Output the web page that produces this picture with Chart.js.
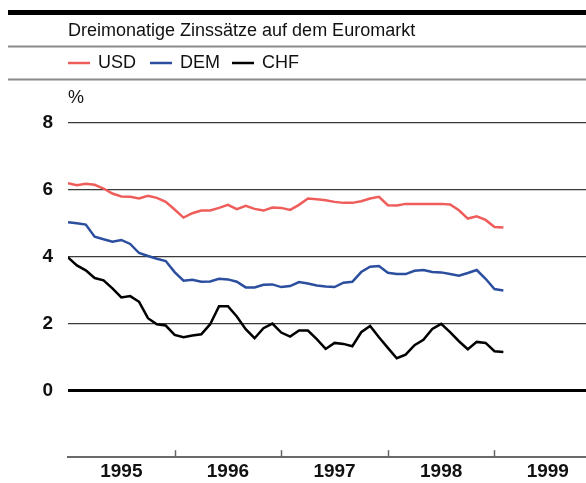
<!DOCTYPE html>
<html>
<head>
<meta charset="utf-8">
<script src="https://cdn.jsdelivr.net/npm/chart.js@4.4.1/dist/chart.umd.min.js"></script>
<style>
  html, body { margin: 0; padding: 0; background: #fff; overflow: hidden; }
  #wrap { width: 586px; height: 483px; position: relative; overflow: hidden; }
</style>
</head>
<body>
<div id="wrap"><canvas id="myChart"></canvas></div>
<script>
// monthly values, Jan 1995 .. Feb 1999 (index = months since Jan 1995)
const usd = [6.2, 6.14, 6.18, 6.15, 6.04, 5.89, 5.8, 5.79, 5.74, 5.82, 5.76, 5.64,
  5.41, 5.17, 5.3, 5.38, 5.38, 5.46, 5.55, 5.42, 5.52, 5.43, 5.38, 5.47,
  5.46, 5.4, 5.55, 5.74, 5.72, 5.69, 5.64, 5.61, 5.61, 5.66, 5.74, 5.79,
  5.54, 5.53, 5.58, 5.58, 5.58, 5.58, 5.58, 5.56, 5.39, 5.14, 5.21, 5.1,
  4.89, 4.87];
const dem = [5.03, 5.0, 4.96, 4.6, 4.52, 4.45, 4.5, 4.38, 4.11, 4.02, 3.94, 3.87,
  3.54, 3.28, 3.31, 3.25, 3.26, 3.34, 3.32, 3.25, 3.08, 3.08, 3.16, 3.17,
  3.09, 3.12, 3.24, 3.2, 3.14, 3.11, 3.09, 3.22, 3.25, 3.54, 3.7, 3.72,
  3.52, 3.48, 3.48, 3.58, 3.6, 3.54, 3.53, 3.48, 3.43, 3.51, 3.6, 3.34,
  3.03, 2.99];
const chf = [3.98, 3.74, 3.59, 3.36, 3.29, 3.05, 2.78, 2.82, 2.65, 2.16, 1.98, 1.94,
  1.66, 1.59, 1.64, 1.68, 1.98, 2.52, 2.52, 2.21, 1.83, 1.56, 1.86, 2.0,
  1.73, 1.61, 1.79, 1.79, 1.53, 1.24, 1.42, 1.39, 1.32, 1.74, 1.93, 1.59,
  1.27, 0.96, 1.07, 1.35, 1.51, 1.84, 1.99, 1.74, 1.47, 1.23, 1.45, 1.42,
  1.17, 1.15];

const seriesNames = ['USD', 'DEM', 'CHF'];
const seriesColors = ['#ef5d5a', '#2b4e9f', '#000000'];
const yearLabels = ['1995', '1996', '1997', '1998', '1999'];
const yTicks = [0, 2, 4, 6, 8];
const title = 'Dreimonatige Zinssätze auf dem Euromarkt';
const unit = '%';

const FONT = "'Liberation Sans', Arial, sans-serif";

function toPoints(arr) {
  return arr.map((v, i) => ({ x: i, y: v }));
}

const headerPlugin = {
  id: 'header',
  afterDraw(chart) {
    const ctx = chart.ctx;
    const x0 = chart.chartArea.left;
    ctx.save();
    // rules
    ctx.fillStyle = '#000';
    ctx.fillRect(8, 10, 578, 5);
    ctx.fillStyle = '#8a8a8a';
    ctx.fillRect(8, 45.5, 578, 2);
    ctx.fillRect(8, 78.5, 578, 2);
    // title
    ctx.fillStyle = '#111';
    ctx.font = '18px ' + FONT;
    ctx.textBaseline = 'middle';
    ctx.textAlign = 'left';
    ctx.fillText(title, x0, 31);
    // legend
    const itemX = [68, 150, 232];
    chart.data.datasets.forEach((ds, i) => {
      const lx = itemX[i];
      ctx.strokeStyle = ds.borderColor;
      ctx.lineWidth = 2.5;
      ctx.beginPath();
      ctx.moveTo(lx, 63);
      ctx.lineTo(lx + 22, 63);
      ctx.stroke();
      ctx.fillStyle = '#111';
      ctx.fillText(ds.label, lx + 30, 63);
    });
    // unit
    ctx.fillText(unit, x0, 98);
    // year boundary ticks on the bottom axis
    const xs = chart.scales.x;
    const b = chart.chartArea.bottom;
    ctx.strokeStyle = '#666';
    ctx.lineWidth = 1.5;
    for (let m = 12; m < xs.max; m += 12) {
      const px = Math.round(xs.getPixelForValue(m)) + 0.5;
      ctx.beginPath();
      ctx.moveTo(px, b - 7);
      ctx.lineTo(px, b);
      ctx.stroke();
    }
    ctx.restore();
  }
};

const ctx = document.getElementById('myChart').getContext('2d');

const data = {
  datasets: [usd, dem, chf].map((arr, i) => ({
    label: seriesNames[i],
    data: toPoints(arr),
    borderColor: seriesColors[i],
    borderWidth: 2.5,
    pointRadius: 0,
    tension: 0,
    fill: false
  }))
};

const config = {
  type: 'line',
  data: data,
  options: {
    responsive: false,
    animation: false,
    layout: { padding: { top: 123, right: 0, bottom: 0, left: 0 } },
    plugins: {
      legend: { display: false },
      title: { display: false },
      tooltip: { enabled: false }
    },
    scales: {
      x: {
        type: 'linear',
        min: 0,
        max: 58.3,
        afterBuildTicks: (scale) => {
          scale.ticks = yearLabels.map((y, i) => ({ value: 6 + 12 * i }));
        },
        ticks: {
          autoSkip: false,
          maxRotation: 0,
          padding: 3,
          color: '#111',
          font: { family: FONT, size: 19, weight: 'bold' },
          callback: (v) => yearLabels[Math.round((v - 6) / 12)]
        },
        grid: { display: false, drawTicks: false },
        border: { display: true, color: '#6a6a6a', width: 2 }
      },
      y: {
        min: -2,
        max: 8,
        afterBuildTicks: (scale) => {
          scale.ticks = yTicks.map((v) => ({ value: v }));
        },
        afterFit: (scale) => { scale.width = 68; },
        ticks: {
          padding: 15,
          color: '#111',
          font: { family: FONT, size: 19, weight: 'bold' },
          callback: (v) => String(v)
        },
        grid: {
          drawTicks: false,
          color: (c) => (c.tick && c.tick.value === 0 ? '#000' : '#3a3a3a'),
          lineWidth: (c) => (c.tick && c.tick.value === 0 ? 3 : 1.3)
        },
        border: { display: false }
      }
    }
  },
  plugins: [headerPlugin]
};

// canvas is a little taller than the window so the plot bottom lands where the original has it
document.getElementById('myChart').width = 586;
document.getElementById('myChart').height = 486;
new Chart(ctx, config);
</script>
</body>
</html>
